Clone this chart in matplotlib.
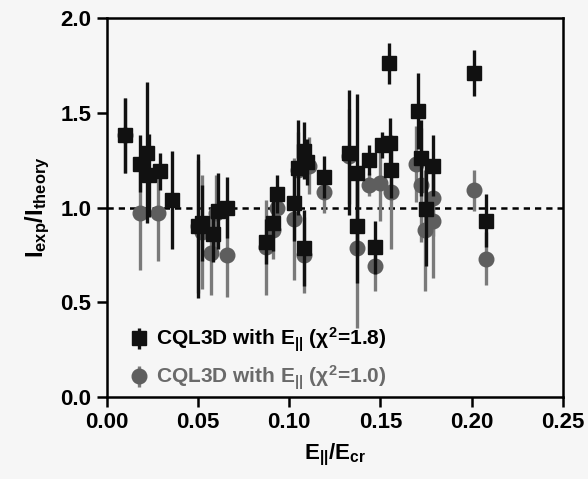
import matplotlib.pyplot as plt

# data
sq_x = [0.010, 0.018, 0.022, 0.023, 0.029, 0.036, 0.050, 0.052, 0.058, 0.061,
        0.066, 0.0875, 0.091, 0.0935, 0.1026, 0.105, 0.108, 0.110, 0.108, 0.119,
        0.133, 0.137, 0.137, 0.1435, 0.147, 0.151, 0.1545, 0.155, 0.1555, 0.1705,
        0.172, 0.175, 0.179, 0.2015, 0.208]
sq_y = [1.38, 1.23, 1.29, 1.17, 1.19, 1.04, 0.90, 0.92, 0.86, 0.98,
        1.00, 0.82, 0.92, 1.07, 1.025, 1.21, 1.30, 1.24, 0.785, 1.16,
        1.29, 1.18, 0.90, 1.25, 0.79, 1.33, 1.76, 1.34, 1.20, 1.51,
        1.26, 0.99, 1.22, 1.71, 0.93]
sq_err = [0.20, 0.15, 0.37, 0.22, 0.10, 0.26, 0.38, 0.20, 0.15, 0.20,
          0.16, 0.12, 0.15, 0.10, 0.20, 0.25, 0.15, 0.12, 0.20, 0.11,
          0.33, 0.42, 0.30, 0.08, 0.14, 0.07, 0.11, 0.13, 0.15, 0.20,
          0.20, 0.30, 0.16, 0.12, 0.14]

ci_x = [0.010, 0.018, 0.028, 0.050, 0.052, 0.057, 0.066, 0.060, 0.0875,
        0.0935, 0.091, 0.1026, 0.105, 0.111, 0.108, 0.119, 0.133, 0.137, 0.1435,
        0.147, 0.150, 0.1555, 0.1696, 0.172, 0.1745, 0.179, 0.179, 0.201, 0.208]
ci_y = [1.38, 0.97, 0.97, 0.90, 0.87, 0.76, 0.75, 0.97, 0.79,
        1.00, 0.88, 0.94, 1.20, 1.22, 0.75, 1.08, 1.27, 0.785, 1.12,
        0.69, 1.13, 1.08, 1.23, 1.12, 0.88, 1.05, 0.93, 1.09, 0.73]
ci_err = [0.20, 0.30, 0.25, 0.35, 0.30, 0.22, 0.22, 0.20, 0.25,
          0.10, 0.15, 0.32, 0.20, 0.15, 0.20, 0.11, 0.25, 0.42, 0.06,
          0.13, 0.20, 0.30, 0.20, 0.30, 0.32, 0.20, 0.30, 0.11, 0.14]

plt.rcParams['font.family'] = ['Liberation Sans', 'DejaVu Sans']
plt.rcParams['font.weight'] = 'bold'
plt.rcParams['mathtext.fontset'] = 'custom'
plt.rcParams['mathtext.rm'] = 'Liberation Sans:bold'
plt.rcParams['mathtext.it'] = 'Liberation Sans:bold'
plt.rcParams['mathtext.bf'] = 'Liberation Sans:bold'

bg = '#f6f6f6'
fig = plt.figure(figsize=(5.88, 4.79), dpi=100, facecolor=bg)
ax = fig.add_axes([0.1815, 0.1712, 0.776, 0.7912])
ax.set_facecolor(bg)

ax.axhline(1.0, color='black', linestyle=(0, (2.5, 2)), linewidth=1.8, zorder=1)

h2 = ax.errorbar(ci_x, ci_y, yerr=ci_err, fmt='o', color='#5e5e5e', ecolor='#7a7a7a',
                 elinewidth=2.4, markersize=10.5, capsize=0, zorder=2,
                 label=r'CQL3D with E$_{||}$ ($\chi^2$=1.0)')
h1 = ax.errorbar(sq_x, sq_y, yerr=sq_err, fmt='s', color='#111111', ecolor='#111111',
                 elinewidth=2.4, markersize=10, capsize=0, zorder=3,
                 label=r'CQL3D with E$_{||}$ ($\chi^2$=1.8)')

leg = ax.legend(handles=[h1, h2], loc='lower left', bbox_to_anchor=(0.025, -0.025),
                frameon=False, fontsize=15, handlelength=0.6, handletextpad=0.5,
                labelspacing=0.45, borderaxespad=0.3)
leg.get_texts()[1].set_color('#6a6a6a')

ax.set_xlim(0, 0.25)
ax.set_ylim(0, 2.0)
ax.set_xticks([0.00, 0.05, 0.10, 0.15, 0.20, 0.25])
ax.set_xticklabels(['0.00', '0.05', '0.10', '0.15', '0.20', '0.25'])
ax.set_yticks([0.0, 0.5, 1.0, 1.5, 2.0])
ax.set_yticklabels(['0.0', '0.5', '1.0', '1.5', '2.0'])
ax.tick_params(direction='out', length=7, width=1.8, labelsize=16, pad=4)
for s in ax.spines.values():
    s.set_linewidth(1.8)

ax.set_xlabel(r'E$_{||}$/E$_{cr}$', fontsize=16, fontweight='bold', labelpad=6)
ax.set_ylabel(r'I$_{exp}$/I$_{theory}$', fontsize=17, fontweight='bold', labelpad=6)

fig.savefig('out.png', dpi=100, facecolor=bg)
